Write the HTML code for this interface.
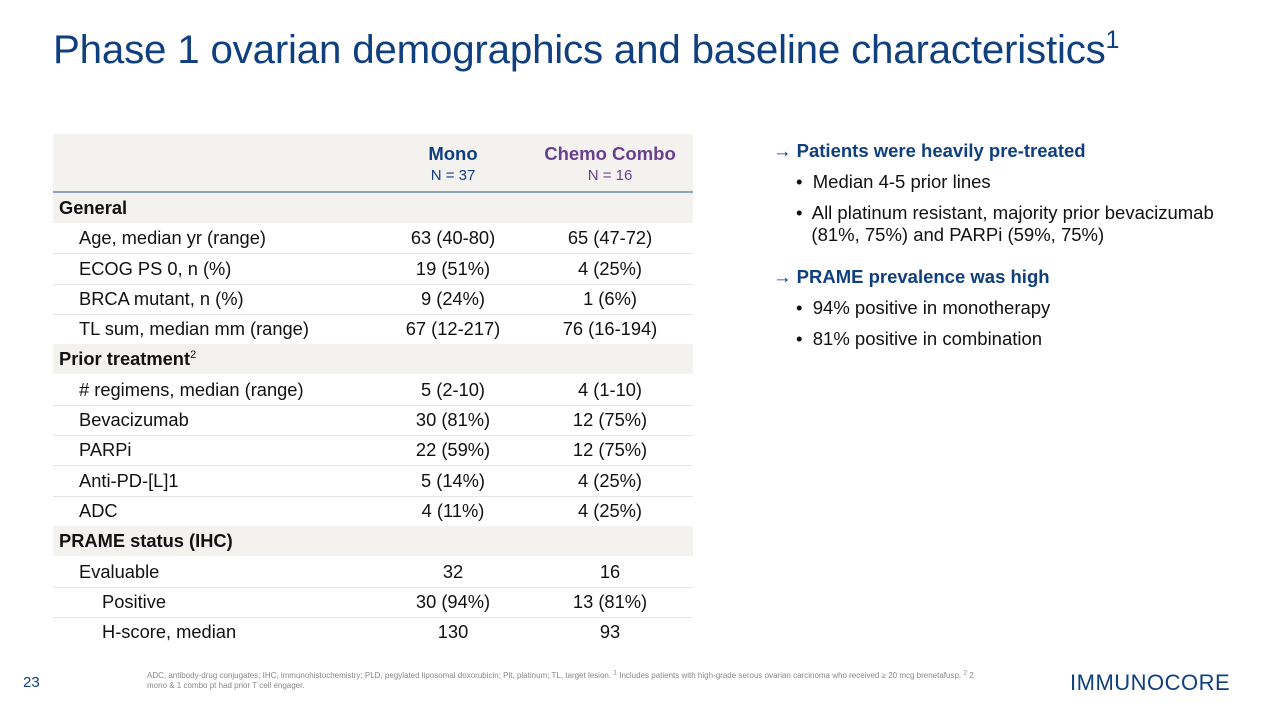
<!DOCTYPE html>
<html><head><meta charset="utf-8">
<style>
body{margin:0;width:1280px;height:720px;background:#fff;font-family:"Liberation Sans",Arial,sans-serif;position:relative;overflow:hidden;color:#111}
.abs{position:absolute}
h1{position:absolute;left:53px;top:27px;margin:0;font-weight:normal;font-size:40.3px;color:#0f3f7e;letter-spacing:-0.2px;white-space:nowrap}
h1 sup{font-size:25px;vertical-align:15px;line-height:0}
.row{position:absolute;left:53px;width:640px;height:30px;font-size:18.3px;line-height:30px;border-bottom:1px solid #e8e6e2;white-space:nowrap}
.row.sec{background:#f3f2ef;font-weight:bold;border-bottom:none}
.row .l{position:absolute;left:26px}
.row.sec .l{left:6px}
.row .l.sub{left:49px}
.row .m{position:absolute;left:320px;width:160px;text-align:center}
.row .c{position:absolute;left:477px;width:160px;text-align:center}
.bul{position:absolute;font-size:18.5px;line-height:22px;white-space:nowrap}
.hd{color:#0f3f7e;font-weight:bold}
</style></head><body>
<h1>Phase 1 ovarian demographics and baseline characteristics<sup>1</sup></h1>

<div class="abs" style="left:53px;top:134px;width:640px;height:57px;background:#f3f2ef;border-bottom:2px solid #8ea2bd"></div>
<div class="abs" style="left:373px;top:143px;width:160px;text-align:center;color:#0f3f7e"><div style="font-weight:bold;font-size:18.5px">Mono</div><div style="font-size:15px;margin-top:2px">N = 37</div></div>
<div class="abs" style="left:530px;top:143px;width:160px;text-align:center;color:#6a3f8f"><div style="font-weight:bold;font-size:18.5px">Chemo Combo</div><div style="font-size:15px;margin-top:2px">N = 16</div></div>

<div class="row sec" style="top:193px"><span class="l">General</span></div>
<div class="row" style="top:223px"><span class="l">Age, median yr (range)</span><span class="m">63 (40-80)</span><span class="c">65 (47-72)</span></div>
<div class="row" style="top:254px"><span class="l">ECOG PS 0, n (%)</span><span class="m">19 (51%)</span><span class="c">4 (25%)</span></div>
<div class="row" style="top:284px"><span class="l">BRCA mutant, n (%)</span><span class="m">9 (24%)</span><span class="c">1 (6%)</span></div>
<div class="row" style="top:314px"><span class="l">TL sum, median mm (range)</span><span class="m">67 (12-217)</span><span class="c">76 (16-194)</span></div>
<div class="row sec" style="top:344px"><span class="l">Prior treatment<sup style="font-size:11px;font-weight:normal;line-height:0">2</sup></span></div>
<div class="row" style="top:375px"><span class="l"># regimens, median (range)</span><span class="m">5 (2-10)</span><span class="c">4 (1-10)</span></div>
<div class="row" style="top:405px"><span class="l">Bevacizumab</span><span class="m">30 (81%)</span><span class="c">12 (75%)</span></div>
<div class="row" style="top:435px"><span class="l">PARPi</span><span class="m">22 (59%)</span><span class="c">12 (75%)</span></div>
<div class="row" style="top:466px"><span class="l">Anti-PD-[L]1</span><span class="m">5 (14%)</span><span class="c">4 (25%)</span></div>
<div class="row" style="top:496px"><span class="l">ADC</span><span class="m">4 (11%)</span><span class="c">4 (25%)</span></div>
<div class="row sec" style="top:526px"><span class="l">PRAME status (IHC)</span></div>
<div class="row" style="top:557px"><span class="l">Evaluable</span><span class="m">32</span><span class="c">16</span></div>
<div class="row" style="top:587px"><span class="l sub">Positive</span><span class="m">30 (94%)</span><span class="c">13 (81%)</span></div>
<div class="row" style="top:617px;border-bottom:none"><span class="l sub">H-score, median</span><span class="m">130</span><span class="c">93</span></div>

<div class="bul hd" style="left:773px;top:140px"><span style="font-weight:normal">→</span> Patients were heavily pre-treated</div>
<div class="bul" style="left:796px;top:171px">•&nbsp; Median 4-5 prior lines</div>
<div class="bul" style="left:796px;top:202px">•&nbsp; All platinum resistant, majority prior bevacizumab<br>&nbsp;&nbsp;&nbsp;(81%, 75%) and PARPi (59%, 75%)</div>
<div class="bul hd" style="left:773px;top:266px"><span style="font-weight:normal">→</span> PRAME prevalence was high</div>
<div class="bul" style="left:796px;top:297px">•&nbsp; 94% positive in monotherapy</div>
<div class="bul" style="left:796px;top:328px">•&nbsp; 81% positive in combination</div>

<div class="abs" style="left:23px;top:674px;font-size:15px;color:#0f3f7e">23</div>
<div class="abs" style="left:147px;top:671px;width:845px;font-size:8px;line-height:10px;color:#888">ADC, antibody-drug conjugates; IHC, immunohistochemistry; PLD, pegylated liposomal doxorubicin; Plt, platinum; TL, target lesion. <sup style="line-height:0">1</sup> Includes patients with high-grade serous ovarian carcinoma who received ≥ 20 mcg brenetafusp. <sup style="line-height:0">2</sup> 2 mono &amp; 1 combo pt had prior T cell engager.</div>
<div class="abs" style="left:1070px;top:670px;font-size:22px;color:#0f3f7e;letter-spacing:0.5px">IMMUNOCORE</div>
</body></html>
